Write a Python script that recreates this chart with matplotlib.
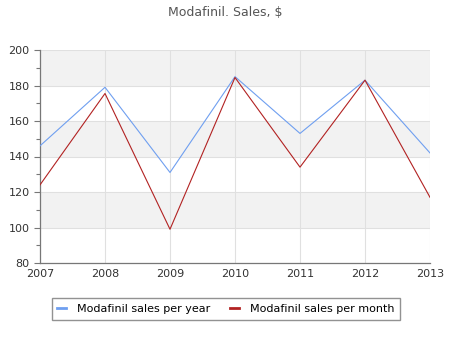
import matplotlib
matplotlib.use("Agg")
import matplotlib.pyplot as plt
from matplotlib.ticker import MultipleLocator

# data
years = [2007, 2008, 2009, 2010, 2011, 2012, 2013]
sales_per_year = [146, 179, 131, 185, 153, 183, 142]
sales_per_month = [124, 175.5, 99, 184.5, 134, 183, 117]

fig = plt.figure(figsize=(4.5, 3.5), dpi=100)
ax = fig.add_axes([40 / 450, 1 - 263 / 350, 390 / 450, 213 / 350])

# alternating horizontal bands
for lo in range(80, 200, 20):
    if (lo // 20) % 2 == 1:
        ax.axhspan(lo, lo + 20, color="#f2f2f2", zorder=0, lw=0)

ax.grid(True, color="#e0e0e0", lw=0.8, zorder=1)
ax.set_axisbelow(True)

ax.plot(years, sales_per_year, color="#6f9ff0", lw=0.8, label="Modafinil sales per year", zorder=3)
ax.plot(years, sales_per_month, color="#b22222", lw=0.8, label="Modafinil sales per month", zorder=3)

ax.set_xlim(2007, 2013)
ax.set_ylim(80, 200)
ax.set_xticks(years)
ax.yaxis.set_major_locator(MultipleLocator(20))
ax.yaxis.set_minor_locator(MultipleLocator(10))

for s in ["top", "right"]:
    ax.spines[s].set_visible(False)
for s in ["left", "bottom"]:
    ax.spines[s].set_color("#777777")
    ax.spines[s].set_linewidth(0.9)

ax.tick_params(axis="both", labelsize=8, colors="#333333", length=4, width=0.8)
ax.tick_params(axis="y", which="minor", length=3, width=0.8, colors="#777777")
ax.tick_params(axis="x", length=0, pad=4)
ax.tick_params(axis="y", which="major", color="#777777")

fig.text(0.5, 1 - 12 / 350, "Modafinil. Sales, $", ha="center", va="center",
         fontsize=9, color="#555555")

leg = fig.legend(loc="center", bbox_to_anchor=(226 / 450, 1 - 309 / 350), ncol=2,
                 fontsize=8, frameon=True, fancybox=False, handlelength=0.8,
                 handletextpad=1.0, columnspacing=1.8, borderpad=0.5)
leg.get_frame().set_edgecolor("#777777")
leg.get_frame().set_linewidth(1.0)
for line in leg.get_lines():
    line.set_linewidth(2)

fig.savefig("out.png", dpi=100)
